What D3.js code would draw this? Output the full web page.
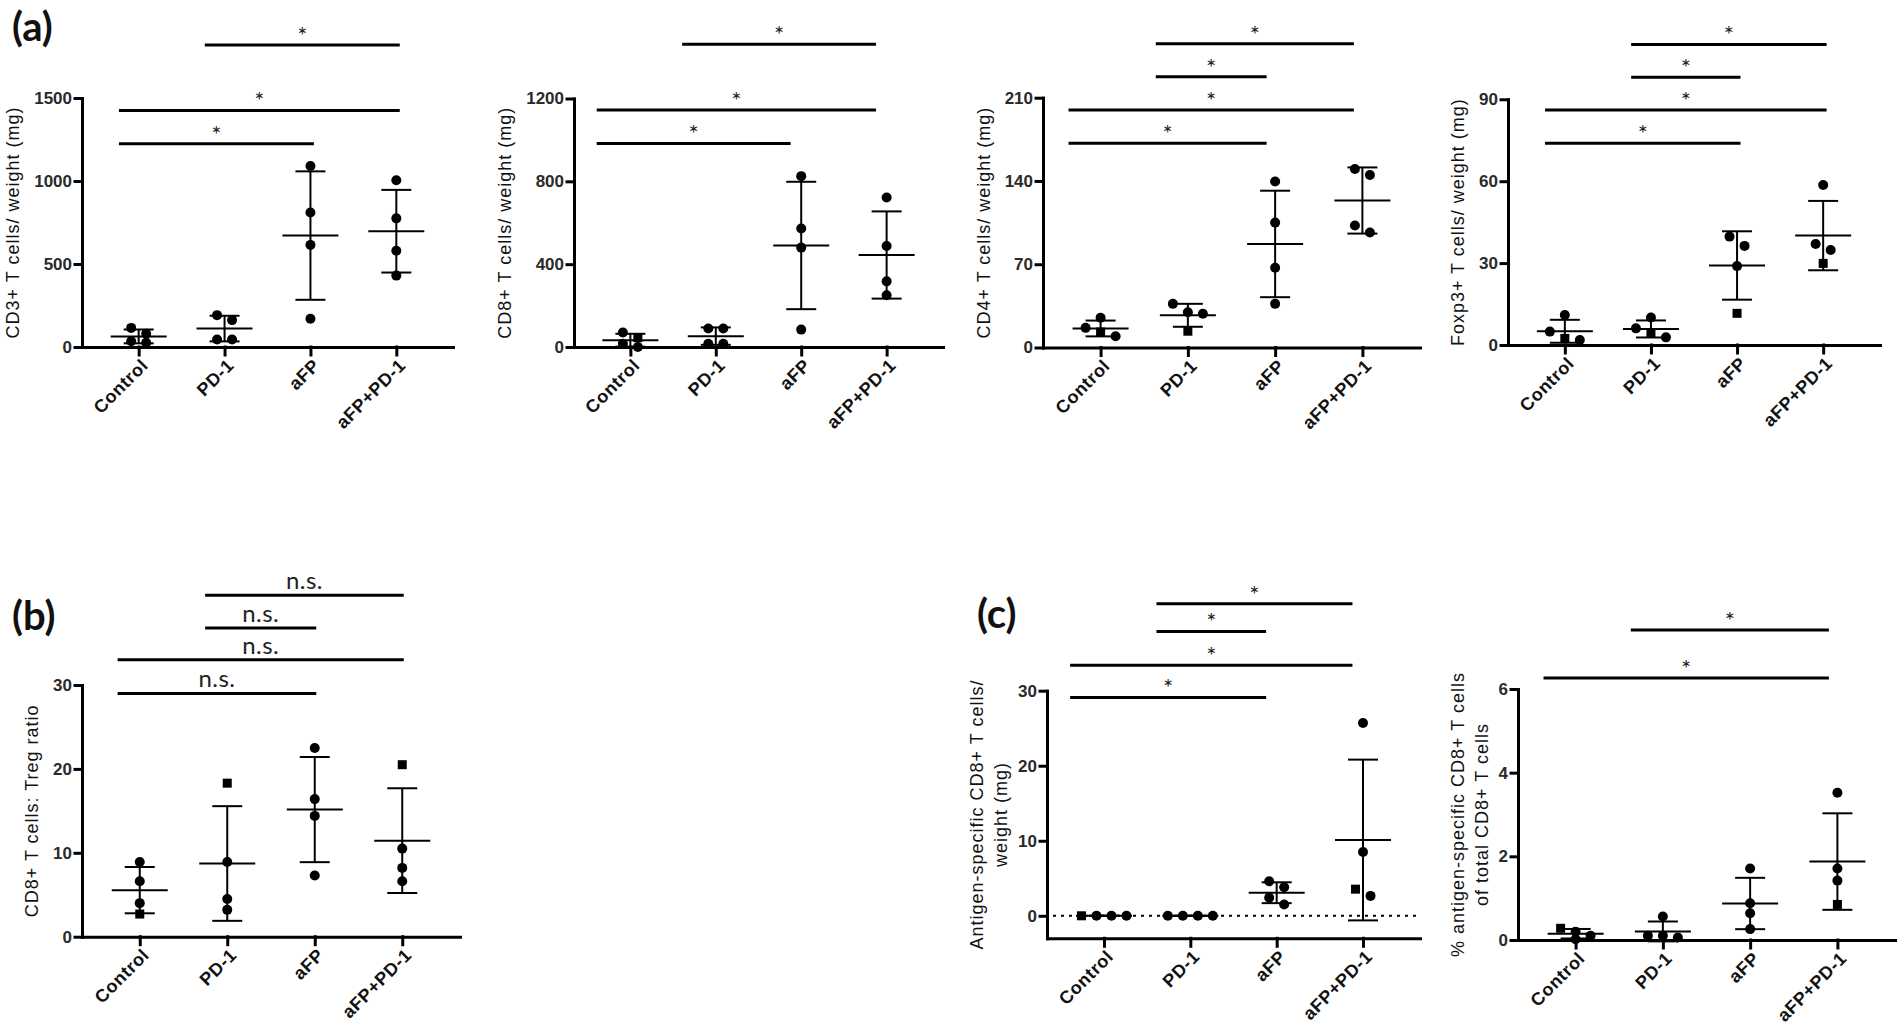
<!DOCTYPE html>
<html>
<head>
<meta charset="utf-8">
<script src="https://cdn.jsdelivr.net/npm/d3@7"></script>
<style>
  body { margin: 0; background: #fff; }
  svg { display: block; font-family: "Liberation Sans", Arial, sans-serif; }
</style>
</head>
<body>
<svg id="fig" width="1900" height="1029"></svg>
<script>
// groups on every x axis
const groups = ['Control', 'PD-1', 'aFP', 'aFP+PD-1']

// per-mouse values, one array per group
const cd3Values = [[115, 80, 35, 25], [192, 162, 45, 45], [1090, 810, 615, 170], [1005, 775, 580, 430]]
const cd8Values = [[45, 70, 0, 16], [89, 89, 16, 16], [825, 572, 480, 84], [722, 488, 317, 250]]
const cd4Values = [[16.5, 25, 9.5, 13], [29.6, 28.3, 36.7, 13.7], [139.5, 105, 67, 36.7], [150, 145, 102.6, 96.7]]
const foxp3Values = [[4.9, 11, 1.8, 2.4], [6.1, 10.1, 2.8, 4.5], [36.3, 39.7, 28.9, 11.6], [58.6, 37, 34.8, 29.9]]
const ratioValues = [[8.9, 6.6, 4.0, 2.7], [18.3, 8.9, 4.5, 3.2], [22.5, 16.4, 14.4, 7.3], [20.5, 10.5, 8.2, 6.6]]
const antigenValues = [[0, 0, 0, 0], [0, 0, 0, 0], [4.6, 3.8, 2.4, 1.5], [25.7, 8.5, 3.55, 2.65]]
const pctValues = [[0.2, 0.02, 0.1, 0.28], [0.56, 0.1, 0.06, 0.1], [1.71, 0.88, 0.64, 0.26], [3.52, 1.71, 1.42, 0.85]]

// y tick labels
const cd3Ticks = [0, 500, 1000, 1500]
const cd8Ticks = [0, 400, 800, 1200]
const cd4Ticks = [0, 70, 140, 210]
const foxp3Ticks = [0, 30, 60, 90]
const ratioTicks = [0, 10, 20, 30]
const antigenTicks = [0, 10, 20, 30]
const pctTicks = [0, 2, 4, 6]

// significance bars: [from group, to group, height in data units, label]
const cd3Bars = [[1, 3, 1820, '*'], [0, 3, 1425, '*'], [0, 2, 1225, '*']]
const cd8Bars = [[1, 3, 1462, '*'], [0, 3, 1145, '*'], [0, 2, 983, '*']]
const cd4Bars = [[1, 3, 255.3, '*'], [1, 2, 227.6, '*'], [0, 3, 199.6, '*'], [0, 2, 171.7, '*']]
const foxp3Bars = [[1, 3, 110.1, '*'], [1, 2, 98.1, '*'], [0, 3, 86.1, '*'], [0, 2, 73.9, '*']]
const ratioBars = [[1, 3, 40.7, 'n.s.'], [1, 2, 36.8, 'n.s.'], [0, 3, 33.0, 'n.s.'], [0, 2, 29.0, 'n.s.']]
const antigenBars = [[1, 3, 41.6, '*'], [1, 2, 37.9, '*'], [0, 3, 33.4, '*'], [0, 2, 29.1, '*']]
const pctBars = [[1, 3, 7.41, '*'], [0, 3, 6.26, '*']]

// layout and styling of each panel
const charts = [
  { values: cd3Values, ticks: cd3Ticks, bars: cd3Bars, domain: [0, 1500],
    title: ['CD3+ T cells/ weight (mg)'], box: [82, 453, 98, 347], shift: 0, squares: [] },
  { values: cd8Values, ticks: cd8Ticks, bars: cd8Bars, domain: [0, 1200],
    title: ['CD8+ T cells/ weight (mg)'], box: [574, 943, 98.5, 347], shift: -14, squares: ['0-0'] },
  { values: cd4Values, ticks: cd4Ticks, bars: cd4Bars, domain: [0, 210],
    title: ['CD4+ T cells/ weight (mg)'], box: [1043, 1420, 97.7, 347.5], shift: -12, squares: ['0-3', '1-3'] },
  { values: foxp3Values, ticks: foxp3Ticks, bars: foxp3Bars, domain: [0, 90],
    title: ['Foxp3+ T cells/ weight (mg)'], box: [1508, 1880, 99.3, 345], shift: 0, squares: ['0-3', '1-3', '2-3', '3-3'] },
  { values: ratioValues, ticks: ratioTicks, bars: ratioBars, domain: [0, 30],
    title: ['CD8+ T cells: Treg ratio'], box: [82, 460, 685, 936.7], shift: -2, squares: ['0-3', '1-0', '3-0'] },
  { values: antigenValues, ticks: antigenTicks, bars: antigenBars, domain: [-3, 30], zeroLine: true,
    title: ['Antigen-specific CD8+ T cells/', 'weight (mg)'], box: [1047, 1420, 690.7, 938.3], shift: -14, squares: ['0-0', '3-2'] },
  { values: pctValues, ticks: pctTicks, bars: pctBars, domain: [0, 6],
    title: ['% antigen-specific CD8+ T cells', 'of total CD8+ T cells'], box: [1518, 1895, 689, 940], shift: -12, squares: ['0-3', '3-3'] }
]

const panelLabels = [['(a)', 12, 41], ['(b)', 12, 630], ['(c)', 977, 628]]

const svg = d3.select('#fig')

function spread(ys, gap) {
  // simple GraphPad-like dodge: points close in y share a row and are spread sideways
  const order = d3.range(ys.length).sort((a, b) => ys[a] - ys[b])
  const offsets = new Array(ys.length).fill(0)
  let cluster = []
  const flush = () => {
    cluster.forEach((idx, k) => { offsets[idx] = (k - (cluster.length - 1) / 2) * gap })
    cluster = []
  }
  order.forEach(idx => {
    if (cluster.length && ys[idx] - ys[cluster[0]] >= 10) flush()
    cluster.push(idx)
  })
  flush()
  return offsets
}

function drawChart(c) {
  const [left, right, top, bottom] = c.box
  const g = svg.append('g')

  const x = d3.scalePoint().domain(groups).range([left, right]).padding(0.66)
  const y = d3.scaleLinear().domain(c.domain).range([bottom, top])
  const step = x.step()

  // y axis
  const yAxis = g.append('g')
    .attr('transform', 'translate(' + left + ',0)')
    .call(d3.axisLeft(y).tickValues(c.ticks).tickFormat(d => d).tickSize(7).tickSizeOuter(0).tickPadding(3))
  yAxis.selectAll('text')
    .attr('font-size', 17).attr('font-weight', 'bold').attr('fill', '#2a2a2a')
    .attr('font-family', '"Liberation Sans", Arial, sans-serif')

  // x axis
  g.append('g')
    .attr('transform', 'translate(0,' + bottom + ')')
    .call(d3.axisBottom(x).tickSize(8).tickSizeOuter(0).tickFormat(''))

  g.selectAll('.domain, .tick line')
    .attr('stroke', '#000').attr('stroke-width', 3).attr('stroke-linecap', 'square')

  g.append('g').selectAll('text')
    .data(groups)
    .enter()
      .append('text')
      .attr('transform', d => 'translate(' + (x(d) + 6) + ',' + (bottom + 15) + ') rotate(-45)')
      .attr('text-anchor', 'end')
      .attr('dy', '0.35em')
      .attr('font-size', 18)
      .attr('font-weight', 'bold')
      .attr('letter-spacing', 0.6)
      .attr('fill', '#111')
      .text(d => d)

  // axis title, placed left of the widest tick label
  let maxW = 0
  yAxis.selectAll('text').each(function() { maxW = Math.max(maxW, this.getComputedTextLength()) })
  const midY = (top + bottom) / 2
  const edge = left - maxW - 10
  const titleX = c.title.length === 1 ? [edge - 21] : [edge - 41, edge - 17]
  c.title.forEach((t, i) => {
    g.append('text')
      .attr('transform', 'translate(' + titleX[i] + ',' + midY + ') rotate(-90)')
      .attr('text-anchor', 'middle')
      .attr('dy', '0.35em')
      .attr('font-size', 18)
      .attr('letter-spacing', 1)
      .attr('fill', '#111')
      .text(t)
  })

  if (c.zeroLine) {
    g.append('line')
      .attr('x1', left + 6).attr('x2', right - 3)
      .attr('y1', y(0)).attr('y2', y(0))
      .attr('stroke', '#000').attr('stroke-width', 2)
      .attr('stroke-dasharray', '3,5')
  }

  // points
  c.values.forEach((vals, gi) => {
    const cx = x(groups[gi])
    const ys = vals.map(v => y(v))
    const offs = spread(ys, 15)
    vals.forEach((v, pi) => {
      if (c.squares.indexOf(gi + '-' + pi) >= 0) {
        g.append('rect')
          .attr('x', cx + offs[pi] - 4.5).attr('y', ys[pi] - 4.5)
          .attr('width', 9).attr('height', 9)
          .attr('fill', '#000')
      } else {
        g.append('circle')
          .attr('cx', cx + offs[pi]).attr('cy', ys[pi])
          .attr('r', 5)
          .attr('fill', '#000')
      }
    })

    // mean +/- SD
    const m = d3.mean(vals)
    const sd = d3.deviation(vals) || 0
    const err = g.append('g').attr('stroke', '#000').attr('stroke-width', 2)
    err.append('line').attr('x1', cx - 28).attr('x2', cx + 28).attr('y1', y(m)).attr('y2', y(m))
    err.append('line').attr('x1', cx).attr('x2', cx).attr('y1', y(m - sd)).attr('y2', y(m + sd))
    err.append('line').attr('x1', cx - 15).attr('x2', cx + 15).attr('y1', y(m + sd)).attr('y2', y(m + sd))
    err.append('line').attr('x1', cx - 15).attr('x2', cx + 15).attr('y1', y(m - sd)).attr('y2', y(m - sd))
  })

  // significance bars
  c.bars.forEach(b => {
    const x1 = x(groups[b[0]]) - 0.23 * step + c.shift
    const x2 = x(groups[b[1]]) + 0.04 * step + c.shift
    const by = y(b[2])
    g.append('line')
      .attr('x1', x1).attr('x2', x2).attr('y1', by).attr('y2', by)
      .attr('stroke', '#000').attr('stroke-width', 3)
    const star = b[3] === '*'
    g.append('text')
      .attr('x', (x1 + x2) / 2)
      .attr('y', by - (star ? 1 : 6))
      .attr('text-anchor', 'middle')
      .attr('font-family', 'Lato, "Open Sans", sans-serif')
      .attr('font-size', 24)
      .attr('letter-spacing', star ? 0 : 0.5)
      .attr('fill', '#222')
      .text(b[3])
  })
}

charts.forEach(drawChart)

svg.selectAll('.panel-label')
  .data(panelLabels)
  .enter()
    .append('text')
    .attr('class', 'panel-label')
    .attr('x', d => d[1])
    .attr('y', d => d[2])
    .attr('font-family', 'Lato, "Open Sans", sans-serif')
    .attr('font-weight', 'bold')
    .attr('font-size', 40)
    .attr('fill', '#111')
    .text(d => d[0])
</script>
</body>
</html>
